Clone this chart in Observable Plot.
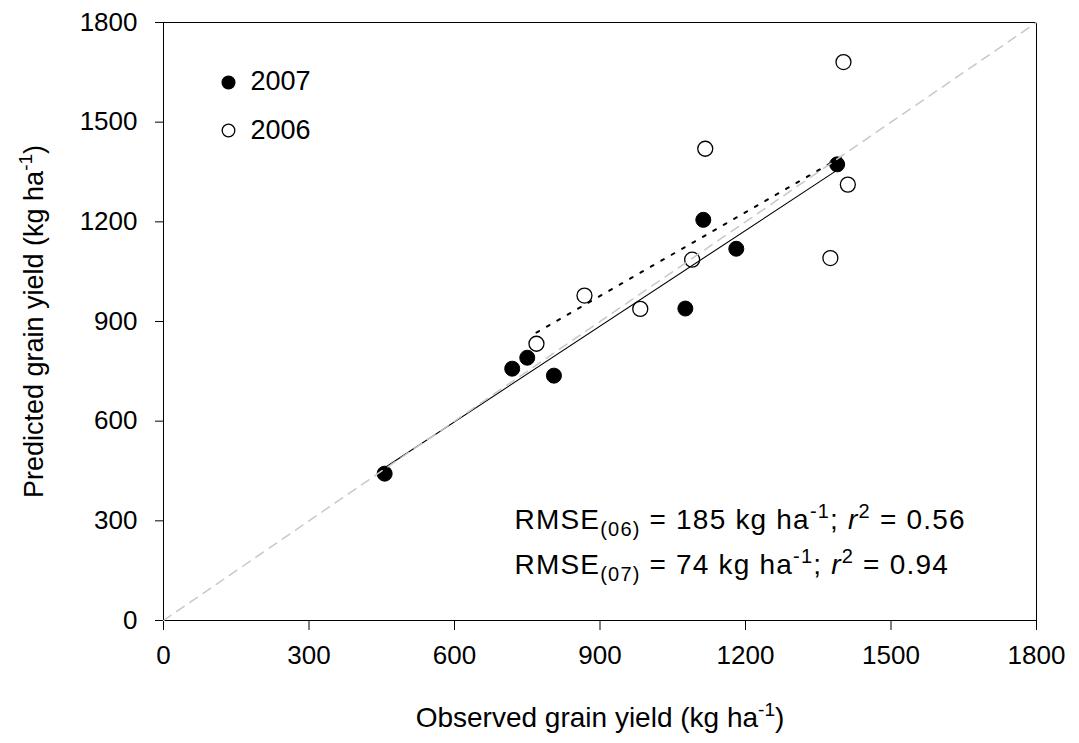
<!DOCTYPE html>
<html>
<head>
<meta charset="utf-8">
<script src="https://cdn.jsdelivr.net/npm/d3@7"></script>
<script src="https://cdn.jsdelivr.net/npm/@observablehq/plot@0.6"></script>
<style>
  html, body { margin: 0; padding: 0; background: #fff; }
  #chart { width: 1079px; height: 743px; }
</style>
</head>
<body>
<div id="chart"></div>
<script>
// ---- data ----
const obs2007  = [456, 719, 750, 805, 1076, 1113, 1181, 1389];
const pred2007 = [442, 758, 791, 737, 939, 1206, 1119, 1373];
const obs2006  = [769, 868, 983, 1090, 1117, 1375, 1402, 1411];
const pred2006 = [833, 978, 938, 1086, 1420, 1091, 1681, 1312];
const years = ["2007", "2006"];
const axisTicks = [0, 300, 600, 900, 1200, 1500, 1800];
const oneToOne = [0, 1800];
const xTitle = [{t: "Observed grain yield (kg ha"}, {t: "-1", sup: true}, {t: ")"}];
const yTitle = [{t: "Predicted grain yield (kg ha"}, {t: "-1", sup: true}, {t: ")"}];
const stats = [
  [{t: "RMSE"}, {t: "(06)", sub: true}, {t: " = 185 kg ha"}, {t: "-1", sup: true}, {t: "; "}, {t: "r", it: true}, {t: "2", sup: true}, {t: " = 0.56"}],
  [{t: "RMSE"}, {t: "(07)", sub: true}, {t: " = 74 kg ha"}, {t: "-1", sup: true}, {t: "; "}, {t: "r", it: true}, {t: "2", sup: true}, {t: " = 0.94"}]
];

const rows2007 = obs2007.map((x, i) => ({year: "2007", obs: x, pred: pred2007[i]}));
const rows2006 = obs2006.map((x, i) => ({year: "2006", obs: x, pred: pred2006[i]}));
const plain = parts => parts.map(p => p.t).join("");

const FONT = "'Liberation Sans', Arial, Helvetica, sans-serif";

const chart = Plot.plot({
  width: 1079,
  height: 743,
  marginLeft: 163,
  marginRight: 43,
  marginTop: 22,
  marginBottom: 123,
  style: {fontFamily: FONT, fontSize: "26px", background: "#fff", color: "#000"},
  x: {domain: [0, 1800], ticks: axisTicks, tickFormat: d => String(d), tickSize: 10, tickPadding: 15, label: null},
  y: {domain: [0, 1800], ticks: axisTicks, tickFormat: d => String(d), tickSize: 8, tickPadding: 18, label: null},
  marks: [
    Plot.frame({stroke: "#000", strokeWidth: 1}),
    Plot.dot(rows2007, {x: "obs", y: "pred", r: 7.5, fill: "#000", stroke: "#000", strokeWidth: 1}),
    Plot.dot(rows2006, {x: "obs", y: "pred", r: 7.5, fill: "#fff", stroke: "#000", strokeWidth: 1.3}),
    Plot.linearRegressionY(rows2007, {x: "obs", y: "pred", ci: 0, stroke: "#000", strokeWidth: 1.1}),
    Plot.linearRegressionY(rows2006, {x: "obs", y: "pred", ci: 0, stroke: "#000", strokeWidth: 2, strokeDasharray: "3,9"}),
    Plot.line(oneToOne, {x: d => d, y: d => d, stroke: "#c8c8c8", strokeWidth: 1.5, strokeDasharray: "9,7"}),
    // legend
    Plot.dot([years[0]], {frameAnchor: "top-left", dx: 65, dy: 60, r: 6.3, fill: "#000", stroke: "#000"}),
    Plot.dot([years[1]], {frameAnchor: "top-left", dx: 65, dy: 108, r: 6.3, fill: "#fff", stroke: "#000", strokeWidth: 1.3}),
    Plot.text([years[0]], {frameAnchor: "top-left", dx: 87, dy: 59, text: d => d, textAnchor: "start", lineAnchor: "middle", fontSize: 27, fill: "#000"}),
    Plot.text([years[1]], {frameAnchor: "top-left", dx: 87, dy: 108, text: d => d, textAnchor: "start", lineAnchor: "middle", fontSize: 27, fill: "#000"}),
    // statistics annotation
    Plot.text([stats[0]], {frameAnchor: "bottom-left", dx: 351, dy: -100, text: plain, textAnchor: "start", lineAnchor: "middle", fontSize: 28, fill: "#000"}),
    Plot.text([stats[1]], {frameAnchor: "bottom-left", dx: 351, dy: -55, text: plain, textAnchor: "start", lineAnchor: "middle", fontSize: 28, fill: "#000"}),
    // axis titles
    Plot.text([xTitle], {frameAnchor: "bottom", dy: 98, text: plain, textAnchor: "middle", lineAnchor: "middle", fontSize: 28, fill: "#000"}),
    Plot.text([yTitle], {frameAnchor: "left", dx: -129, rotate: -90, text: plain, textAnchor: "middle", lineAnchor: "middle", fontSize: 27, fill: "#000"})
  ]
});

document.getElementById("chart").appendChild(chart);

// rich text (sub/superscripts, italics) for the text marks, found by their plain content
function rich(parts, opts = {}) {
  const s = plain(parts);
  const t = d3.select(chart).selectAll("text").filter(function () { return this.textContent === s; });
  if (t.empty()) return;
  t.each(function () {
    const el = d3.select(this);
    el.text(null);
    if (opts.spacing) el.attr("letter-spacing", opts.spacing);
    let shift = 0;
    for (const p of parts) {
      const ts = el.append("tspan").text(p.t);
      const target = p.sub ? 7 : p.sup ? -11 : 0;
      if (target - shift !== 0) ts.attr("dy", target - shift);
      shift = target;
      if (p.sub || p.sup) ts.attr("font-size", opts.small || 19);
      if (p.it) ts.attr("font-style", "italic");
    }
  });
}
rich(stats[0], {spacing: 1.2, small: 20});
rich(stats[1], {spacing: 1.2, small: 20});
rich(xTitle, {small: 19});
rich(yTitle, {small: 19});
</script>
</body>
</html>
